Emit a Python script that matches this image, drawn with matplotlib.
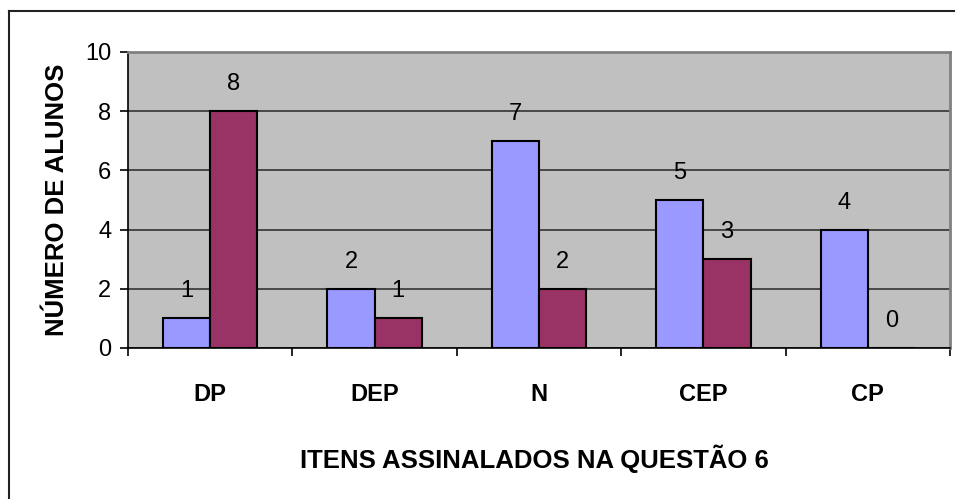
import matplotlib
matplotlib.use("Agg")
import matplotlib.pyplot as plt
import numpy as np
from matplotlib.lines import Line2D

categories = ["DP", "DEP", "N", "CEP", "CP"]
series_a = [1, 2, 7, 5, 4]
series_b = [8, 1, 2, 3, 0]
yticks = [0, 2, 4, 6, 8, 10]
xlabel = "ITENS ASSINALADOS NA QUESTÃO 6"
ylabel = "NÚMERO DE ALUNOS"

plt.rcParams['font.family'] = ['Liberation Sans', 'DejaVu Sans']

W, H = 955, 499
fig = plt.figure(figsize=(W / 100, H / 100), dpi=100)
L, R, T, B = 128, 950, 52, 348
ax = fig.add_axes([L / W, 1 - B / H, (R - L) / W, (B - T) / H])
ax.set_facecolor("#C0C0C0")

x = np.arange(len(categories))
bw = 0.287
bars_a = ax.bar(x - bw / 2, series_a, bw, color="#9999FF", edgecolor="black", linewidth=1.5, zorder=3)
bars_b = ax.bar(x + bw / 2, series_b, bw, color="#993366", edgecolor="black", linewidth=1.5, zorder=3)

for bars, vals in ((bars_a, series_a), (bars_b, series_b)):
    for b, v in zip(bars, vals):
        ax.annotate(str(v), (b.get_x() + b.get_width() / 2, v), xytext=(0, 27),
                    textcoords="offset pixels", ha="center", va="center", fontsize=17)

ax.set_xlim(-0.5, len(categories) - 0.5)
ax.set_ylim(0, 10)
ax.set_yticks(yticks)
ax.set_yticklabels([str(t) for t in yticks], fontsize=17)
ax.yaxis.grid(True, color="#333333", linewidth=1.2, zorder=1)
ax.set_axisbelow(True)

ax.set_xticks(x)
ax.set_xticklabels(categories, fontsize=17, fontweight="bold")
ax.tick_params(axis="x", which="major", length=0, pad=25)
ax.set_xticks(np.arange(len(categories) + 1) - 0.5, minor=True)
ax.tick_params(axis="x", which="minor", length=6, width=1.2, direction="out")
ax.tick_params(axis="y", length=6, width=1.2, direction="out", pad=6)

for s in ("top", "right"):
    ax.spines[s].set_color("#808080")
    ax.spines[s].set_linewidth(2)
for s in ("left", "bottom"):
    ax.spines[s].set_color("black")
    ax.spines[s].set_linewidth(1.2)

fig.text(57 / W, 1 - 200 / H, ylabel, rotation=90, ha="center", va="center",
         fontsize=18.5, fontweight="bold")
fig.text(534 / W, 1 - 459 / H, xlabel, ha="center", va="center",
         fontsize=18.5, fontweight="bold")

# outer chart frame
fig.add_artist(Line2D([9 / W, 1], [1 - 11 / H, 1 - 11 / H], transform=fig.transFigure, color="#222222", linewidth=1.5))
fig.add_artist(Line2D([9 / W, 9 / W], [1 - 11 / H, 0], transform=fig.transFigure, color="#222222", linewidth=1.5))

fig.savefig("out.png", dpi=100)
